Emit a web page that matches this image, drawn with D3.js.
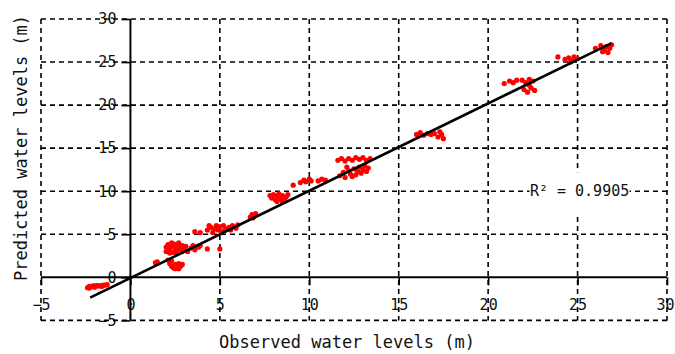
<!DOCTYPE html>
<html>
<head>
<meta charset="utf-8">
<script src="https://cdn.jsdelivr.net/npm/d3@7"></script>
<style>
  body { margin: 0; background: #fff; }
  text { font-family: "DejaVu Sans Mono", monospace; fill: #111; }
</style>
</head>
<body>
<div id="chart"></div>
<script>
// observed vs predicted water levels (m)
const observed = [
  -2.4, -2.3, -2.2, -2.1, -2.0, -1.9, -1.8, -1.7, -1.6, -1.5, -1.4, -1.3, -2.3, -2.0, -1.6,
  2.0, 2.0, 2.1, 2.2, 2.3, 2.3, 2.4, 2.5, 2.5, 2.6, 2.7, 2.7, 2.8, 2.9, 2.2, 2.6, 2.9, 2.4, 2.1,
  2.1, 2.2, 2.3, 2.4, 2.5, 2.6, 2.7, 2.8, 2.9, 2.3, 2.5, 2.7,
  1.5, 1.4,
  3.0, 3.1, 3.2, 3.4, 3.5, 3.6, 3.8, 3.9, 4.3, 5.0,
  3.6, 3.9, 4.3, 4.5, 4.6, 4.8, 4.9, 5.0, 5.1, 5.2, 5.3, 5.5, 5.6, 5.7, 5.9, 6.0, 4.4, 4.7,
  6.7, 6.8, 6.9, 7.0, 6.85,
  7.8, 7.9, 8.0, 8.1, 8.2, 8.3, 8.4, 8.5, 8.6, 8.7, 8.8, 8.2, 8.5,
  9.1, 9.5, 9.7, 9.8, 10.0, 10.1, 10.5, 10.7, 10.9,
  11.6, 11.8, 12.0, 12.2, 12.4, 12.6, 12.8, 13.0, 13.2, 13.4,
  11.7, 11.9, 12.0, 12.2, 12.3, 12.5, 12.6, 12.7, 12.8, 12.9, 13.0, 13.1, 13.2, 13.3, 12.4, 12.1,
  16.0, 16.2, 16.4, 16.6, 16.8, 17.0, 17.2, 17.4, 17.5, 17.3,
  20.9, 21.2, 21.4, 21.6, 21.9, 22.1, 22.3, 22.5, 22.0, 22.2, 22.4, 22.6, 22.3,
  23.9, 24.3, 24.5, 24.7, 24.8, 25.0, 24.6,
  26.0, 26.3, 26.5, 26.6, 26.7, 26.8, 26.9, 26.4
];
const predicted = [
  -1.2, -1.25, -1.1, -1.0, -1.0, -0.95, -1.0, -0.95, -0.95, -0.9, -0.9, -0.85, -1.05, -1.15, -1.05,
  3.0, 3.5, 3.8, 3.2, 3.6, 4.0, 2.9, 3.4, 3.8, 3.1, 3.6, 4.0, 3.3, 3.7, 2.8, 2.8, 3.0, 3.9, 3.4,
  2.0, 1.6, 1.3, 1.1, 1.5, 1.2, 1.6, 1.3, 1.5, 1.9, 1.0, 1.0,
  1.8, 1.7,
  3.3, 3.6, 3.0, 3.4, 3.7, 3.2, 3.5, 3.7, 3.3, 3.3,
  5.3, 5.2, 5.5, 5.8, 5.2, 6.0, 5.5, 5.9, 5.3, 6.0, 5.6, 5.8, 5.5, 6.0, 5.7, 6.1, 6.0, 5.6,
  7.0, 7.3, 7.1, 7.4, 6.9,
  9.5, 9.2, 9.6, 9.0, 9.4, 9.7, 9.1, 9.5, 8.9, 9.3, 9.6, 8.8, 8.8,
  10.7, 11.0, 11.3, 11.1, 11.4, 11.2, 11.2, 11.4, 11.3,
  13.6, 13.8, 13.5, 13.8, 13.6, 13.9, 13.7, 13.9, 13.6, 13.8,
  11.8, 12.2, 11.6, 12.4, 12.0, 12.6, 11.9, 12.3, 12.8, 12.1, 12.5, 13.0, 12.3, 12.7, 11.7, 12.8,
  16.6, 16.8, 16.5, 16.7, 16.6, 16.7, 16.3, 16.6, 16.1, 16.9,
  22.5, 22.8, 22.6, 22.9, 22.9, 22.6, 23.0, 22.8, 21.8, 21.5, 22.0, 21.7, 22.3,
  25.6, 25.3, 25.5, 25.2, 25.6, 25.4, 25.0,
  26.6, 26.9, 26.4, 26.8, 26.1, 26.6, 27.0, 26.2
];

const xTicks = [-5, 0, 5, 10, 15, 20, 25, 30];
const yTicks = [-5, 0, 5, 10, 15, 20, 25, 30];

// fitted line
const fitSlope = 1.014;
const fitIntercept = -0.08;
const fitRange = [-2.25, 26.9];
const r2Label = "R\u00b2 = 0.9905";
const r2Pos = [25, 10];

const width = 675, height = 354;
const x = d3.scaleLinear().domain([-5, 30]).range([41, 667]);
const y = d3.scaleLinear().domain([-5, 30]).range([320.4, 19]);

const svg = d3.select("#chart").append("svg")
  .attr("width", width)
  .attr("height", height);

// tick labels go first, the grid is drawn over them like in the original
const yAxis = d3.axisLeft(y).tickValues(yTicks).tickSize(9).tickPadding(5);
const xAxis = d3.axisBottom(x).tickValues(xTicks).tickSize(8).tickPadding(22);

const gy = svg.append("g")
  .attr("transform", `translate(${x(0)},0)`)
  .call(yAxis);
const gx = svg.append("g")
  .attr("transform", `translate(0,${y(0)})`)
  .call(xAxis);

[gx, gy].forEach(g => {
  g.select(".domain").remove();
  g.selectAll(".tick line").attr("stroke", "#000").attr("stroke-width", 1.6);
  g.selectAll(".tick text")
    .style("font-family", '"DejaVu Sans Mono", monospace')
    .style("font-size", "15px")
    .attr("fill", "#111");
});
gx.selectAll(".tick text").attr("dy", "0.2em");
// last label sits on the right edge, pull it in a little
gx.selectAll(".tick text").filter(d => d === 30).attr("dx", "-2px");

// dashed grid
const grid = svg.append("g")
  .attr("stroke", "#000")
  .attr("stroke-width", 1.6)
  .attr("stroke-dasharray", "5,4");

grid.selectAll(".hg").data(yTicks.filter(d => d !== 0)).join("line")
  .attr("x1", x(-5)).attr("x2", x(30))
  .attr("y1", d => y(d)).attr("y2", d => y(d));

grid.selectAll(".vg").data(xTicks.filter(d => d !== 0)).join("line")
  .attr("x1", d => x(d)).attr("x2", d => x(d))
  .attr("y1", y(30)).attr("y2", y(-5));

// solid zero axes
svg.append("line")
  .attr("x1", x(-5)).attr("x2", x(30))
  .attr("y1", y(0)).attr("y2", y(0))
  .attr("stroke", "#000").attr("stroke-width", 2);
svg.append("line")
  .attr("x1", x(0)).attr("x2", x(0))
  .attr("y1", y(30)).attr("y2", y(-5))
  .attr("stroke", "#000").attr("stroke-width", 2);

// R2 label box
svg.append("rect")
  .attr("x", x(r2Pos[0]) - 48).attr("y", y(r2Pos[1]) - 19)
  .attr("width", 100).attr("height", 44)
  .attr("fill", "#fff");
svg.append("text")
  .attr("x", x(r2Pos[0]) + 2).attr("y", y(r2Pos[1]))
  .attr("dy", "0.35em")
  .attr("text-anchor", "middle")
  .style("font-size", "15px")
  .text(r2Label);

// points
svg.append("g").selectAll("circle")
  .data(observed.map((o, i) => [o, predicted[i]]))
  .join("circle")
  .attr("cx", d => x(d[0]))
  .attr("cy", d => y(d[1]))
  .attr("r", 2.6)
  .attr("fill", "#ff0000");

// regression line
svg.append("line")
  .attr("x1", x(fitRange[0])).attr("y1", y(fitSlope * fitRange[0] + fitIntercept))
  .attr("x2", x(fitRange[1])).attr("y2", y(fitSlope * fitRange[1] + fitIntercept))
  .attr("stroke", "#000").attr("stroke-width", 2.6);

// axis titles
svg.append("text")
  .attr("x", 347).attr("y", 348)
  .attr("text-anchor", "middle")
  .style("font-size", "17px")
  .text("Observed water levels (m)");

svg.append("text")
  .attr("transform", "translate(27,148) rotate(-90)")
  .attr("text-anchor", "middle")
  .style("font-size", "17px")
  .text("Predicted water levels (m)");
</script>
</body>
</html>
